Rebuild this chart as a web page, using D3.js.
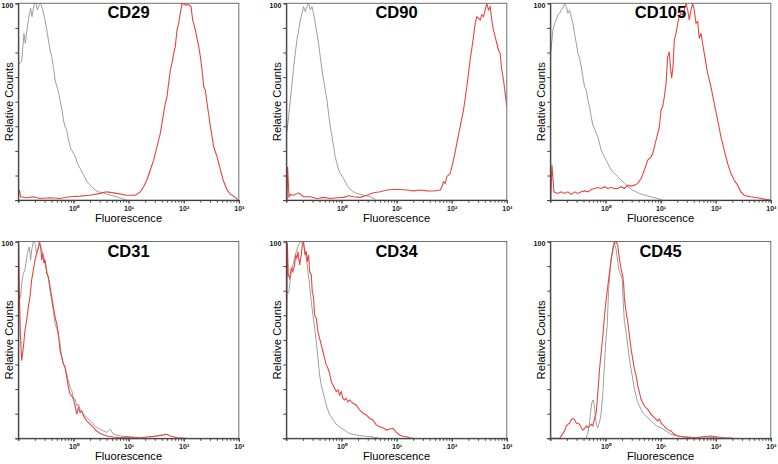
<!DOCTYPE html>
<html>
<head>
<meta charset="utf-8">
<script src="https://cdn.jsdelivr.net/npm/d3@7"></script>
<style>
  html, body { margin: 0; padding: 0; background: #fff; }
  svg { display: block; font-family: "Liberation Sans", Arial, sans-serif; }
</style>
</head>
<body>
<svg id="chart" width="778" height="464"></svg>
<script>
// ---------- data (x = log10 fluorescence, y = relative counts) ----------
const markers = ["CD29", "CD90", "CD105", "CD31", "CD34", "CD45"];
const xTickLabels = ["10\u2070", "10\u00B9", "10\u00B2", "10\u00B3"];
const yTickValues = [0, 12.5, 25, 37.5, 50, 62.5, 75, 87.5, 100];

const cd29Gray = [[-1.0,69.5],[-0.97,69.5],[-0.94,70.3],[-0.897,84.7],[-0.873,79.7],[-0.818,91.5],[-0.776,97.5],[-0.752,93.2],[-0.709,100],[-0.679,100],[-0.655,96.6],[-0.618,99.2],[-0.594,100],[-0.558,96.6],[-0.515,91.5],[-0.473,84.7],[-0.424,76.3],[-0.394,72.9],[-0.364,67.8],[-0.333,61.0],[-0.291,56.8],[-0.267,54.2],[-0.242,50.8],[-0.206,45.8],[-0.182,40.7],[-0.152,37.3],[-0.121,35.6],[-0.091,30.5],[-0.048,26.3],[0.0,23.7],[0.036,22.0],[0.073,18.6],[0.121,16.1],[0.170,13.6],[0.230,10.2],[0.273,8.5],[0.333,6.8],[0.394,5.1],[0.455,4.2],[0.545,3.7],[0.667,2.5],[0.788,1.7],[0.879,0.8],[0.970,0]];
const cd29Red = [[-1.0,2.5],[-0.98,5.1],[-0.958,1.7],[-0.848,1.2],[-0.727,1.7],[-0.606,0.8],[-0.424,1.2],[-0.242,0.8],[-0.061,1.7],[0.121,2.0],[0.303,2.5],[0.485,3.4],[0.606,4.2],[0.788,3.4],[0.970,2.5],[1.121,2.5],[1.212,4.2],[1.273,6.8],[1.333,10.2],[1.394,15.3],[1.455,20.3],[1.515,27.1],[1.576,33.9],[1.636,44.1],[1.667,49.2],[1.697,52.5],[1.727,59.3],[1.758,66.1],[1.788,69.5],[1.818,74.6],[1.848,78.0],[1.879,86.4],[1.909,89.8],[1.939,94.9],[1.970,100],[2.030,99.2],[2.091,99.2],[2.133,98.3],[2.164,91.5],[2.212,86.4],[2.273,78.0],[2.303,72.9],[2.333,66.1],[2.364,57.6],[2.394,55.9],[2.424,49.2],[2.485,37.3],[2.545,27.1],[2.606,22.0],[2.667,15.3],[2.727,9.3],[2.788,5.1],[2.848,2.9],[2.909,2.0],[2.982,0.3]];

const cd90Gray = [[-0.988,34.7],[-0.958,42.4],[-0.927,50.8],[-0.897,59.3],[-0.867,67.8],[-0.837,74.6],[-0.807,81.4],[-0.776,86.4],[-0.746,91.5],[-0.716,94.9],[-0.686,98.3],[-0.656,95.8],[-0.625,98.3],[-0.595,100],[-0.565,96.6],[-0.535,98.3],[-0.505,94.9],[-0.474,89.8],[-0.444,84.7],[-0.414,79.7],[-0.384,72.9],[-0.353,66.1],[-0.323,61.0],[-0.293,55.9],[-0.263,50.8],[-0.233,44.1],[-0.202,37.3],[-0.172,32.2],[-0.142,27.1],[-0.112,22.0],[-0.082,18.6],[-0.051,15.3],[-0.021,13.6],[0.039,11.0],[0.100,7.6],[0.160,5.4],[0.221,4.2],[0.281,3.4],[0.402,2.5],[0.523,1.7],[0.613,0.3]];
const cd90Red = [[-0.988,0],[-0.976,16.9],[-0.952,1.7],[-0.927,2.9],[-0.867,2.5],[-0.776,3.7],[-0.686,1.7],[-0.565,1.7],[-0.444,0.8],[-0.323,1.4],[-0.202,0.8],[-0.082,1.2],[0.039,1.4],[0.130,2.2],[0.221,1.7],[0.341,1.4],[0.462,2.5],[0.583,3.7],[0.704,4.2],[0.825,5.1],[0.946,5.4],[1.066,5.4],[1.187,5.1],[1.308,4.7],[1.429,5.1],[1.550,4.7],[1.671,4.6],[1.792,5.1],[1.822,6.8],[1.852,9.3],[1.882,8.5],[1.912,11.9],[1.973,13.6],[2.003,16.9],[2.033,20.3],[2.094,28.8],[2.154,37.3],[2.215,45.8],[2.275,57.6],[2.335,71.2],[2.396,83.1],[2.426,89.8],[2.456,93.2],[2.486,92.4],[2.517,91.5],[2.547,94.1],[2.577,93.2],[2.607,96.6],[2.637,100],[2.668,96.6],[2.698,98.3],[2.728,91.5],[2.758,86.4],[2.788,83.1],[2.819,79.7],[2.849,76.3],[2.879,74.6],[2.909,66.1],[2.940,61.0],[2.970,54.2],[3.0,47.5]];

const cd105Gray = [[-0.994,74.6],[-0.970,81.4],[-0.952,86.4],[-0.922,89.8],[-0.891,91.5],[-0.861,94.1],[-0.831,94.9],[-0.801,96.6],[-0.771,97.5],[-0.741,100],[-0.710,98.3],[-0.680,94.9],[-0.650,96.6],[-0.620,93.2],[-0.590,89.8],[-0.560,84.7],[-0.529,79.7],[-0.499,74.6],[-0.469,72.0],[-0.439,67.8],[-0.409,62.7],[-0.379,57.6],[-0.348,55.9],[-0.318,50.8],[-0.288,47.5],[-0.258,42.4],[-0.228,38.1],[-0.198,36.4],[-0.167,33.9],[-0.137,32.2],[-0.107,28.8],[-0.077,25.4],[-0.047,23.7],[-0.017,22.0],[0.014,20.3],[0.044,18.6],[0.104,15.3],[0.164,13.6],[0.225,11.9],[0.285,10.2],[0.345,8.5],[0.406,6.8],[0.496,5.1],[0.587,3.7],[0.707,2.5],[0.828,1.7],[0.949,0.8],[1.039,0]];
const cd105Red = [[-0.994,0],[-0.970,17.8],[-0.934,4.2],[-0.861,3.4],[-0.801,4.2],[-0.741,3.4],[-0.680,4.2],[-0.620,2.9],[-0.560,4.2],[-0.499,3.4],[-0.439,4.2],[-0.379,4.7],[-0.318,4.2],[-0.258,5.4],[-0.198,5.9],[-0.137,6.4],[-0.077,5.9],[-0.017,6.8],[0.044,5.9],[0.104,6.4],[0.164,5.9],[0.225,5.9],[0.285,6.8],[0.345,5.9],[0.406,7.6],[0.466,7.1],[0.526,7.6],[0.587,8.5],[0.647,11.0],[0.707,15.3],[0.768,20.3],[0.828,22.0],[0.858,23.7],[0.888,27.1],[0.949,33.9],[0.979,37.3],[1.009,45.8],[1.039,47.5],[1.069,52.5],[1.100,59.3],[1.130,72.9],[1.160,75.4],[1.178,67.8],[1.202,61.9],[1.226,67.8],[1.250,81.4],[1.281,84.7],[1.311,89.8],[1.341,93.2],[1.371,94.9],[1.401,94.1],[1.431,96.6],[1.462,100],[1.492,96.6],[1.522,91.5],[1.552,96.6],[1.582,100],[1.612,96.6],[1.643,89.8],[1.673,90.7],[1.703,82.2],[1.733,84.7],[1.763,79.7],[1.793,74.6],[1.854,64.4],[1.914,57.6],[1.974,49.2],[2.035,40.7],[2.095,32.2],[2.155,25.4],[2.216,18.6],[2.276,13.6],[2.336,10.2],[2.397,7.6],[2.457,4.2],[2.517,2.5],[2.578,2.0],[2.638,1.7],[2.759,1.2],[2.879,0.5],[3.0,0]];

const cd31Gray = [[-0.988,70.2],[-0.958,71.9],[-0.939,78.7],[-0.909,83.8],[-0.879,85.5],[-0.861,88.9],[-0.836,93.9],[-0.800,97.3],[-0.776,90.6],[-0.758,95.7],[-0.727,100],[-0.697,99.1],[-0.667,93.9],[-0.636,97.3],[-0.606,98.3],[-0.576,95.7],[-0.545,92.3],[-0.515,90.6],[-0.485,85.5],[-0.455,81.3],[-0.424,75.0],[-0.394,69.8],[-0.364,64.7],[-0.333,58.1],[-0.303,56.2],[-0.273,52.3],[-0.242,47.9],[-0.212,41.2],[-0.182,37.8],[-0.152,36.1],[-0.121,32.7],[-0.091,29.3],[-0.061,25.9],[-0.030,24.2],[0.0,20.8],[0.030,19.9],[0.061,16.5],[0.091,17.4],[0.121,14.8],[0.182,12.3],[0.242,10.6],[0.303,8.9],[0.364,7.2],[0.424,5.5],[0.485,4.6],[0.545,3.7],[0.606,3.0],[0.667,4.6],[0.727,2.0],[0.848,1.2],[0.970,0.7],[1.091,0.3]];
const cd31Red = [[-1.0,0],[-0.994,98.3],[-0.982,75.0],[-0.964,54.5],[-0.939,39.5],[-0.909,46.0],[-0.879,54.8],[-0.848,59.9],[-0.818,66.8],[-0.788,71.9],[-0.758,80.4],[-0.727,85.5],[-0.697,90.6],[-0.667,94.0],[-0.636,96.6],[-0.618,100],[-0.594,97.4],[-0.576,90.6],[-0.558,94.0],[-0.533,88.9],[-0.515,90.6],[-0.485,83.8],[-0.455,82.1],[-0.424,77.0],[-0.394,71.9],[-0.364,66.8],[-0.333,61.7],[-0.303,58.3],[-0.273,53.2],[-0.242,44.6],[-0.212,41.2],[-0.182,37.8],[-0.152,36.1],[-0.121,31.0],[-0.091,25.9],[-0.061,22.5],[-0.030,21.6],[0.0,19.9],[0.030,16.5],[0.061,12.3],[0.091,15.7],[0.121,13.1],[0.152,14.0],[0.182,11.4],[0.242,8.9],[0.303,7.2],[0.364,5.5],[0.424,3.7],[0.485,2.4],[0.606,1.2],[0.727,0.7],[0.848,0.3],[0.970,0.7],[1.212,0.3],[1.455,1.0],[1.576,1.5],[1.697,2.0],[1.758,1.2],[1.879,0.3],[2.061,0]];

const cd34Gray = [[-0.988,74.6],[-0.970,73.7],[-0.952,74.6],[-0.940,78.0],[-0.909,84.7],[-0.879,88.1],[-0.849,91.5],[-0.819,94.9],[-0.789,97.5],[-0.758,99.2],[-0.728,100],[-0.698,98.3],[-0.668,96.6],[-0.637,91.5],[-0.607,84.7],[-0.577,78.0],[-0.547,69.5],[-0.517,62.7],[-0.486,55.9],[-0.456,49.2],[-0.426,40.7],[-0.396,32.2],[-0.366,27.1],[-0.335,23.7],[-0.305,20.3],[-0.275,16.9],[-0.245,14.4],[-0.215,11.9],[-0.184,11.0],[-0.154,9.3],[-0.124,8.5],[-0.094,7.1],[-0.033,5.9],[0.027,4.7],[0.088,3.4],[0.148,2.5],[0.208,2.0],[0.269,1.7],[0.329,1.4],[0.450,1.0],[0.571,0.7],[0.692,0]];
const cd34Red = [[-1.0,0],[-0.994,50.8],[-0.982,99.2],[-0.964,83.1],[-0.940,81.4],[-0.909,86.4],[-0.879,84.7],[-0.849,88.1],[-0.831,93.2],[-0.807,91.5],[-0.789,94.9],[-0.758,88.1],[-0.728,93.2],[-0.710,98.3],[-0.686,100],[-0.662,93.2],[-0.637,94.9],[-0.619,89.8],[-0.595,93.2],[-0.577,84.7],[-0.547,83.1],[-0.529,74.6],[-0.505,71.2],[-0.486,62.7],[-0.456,61.0],[-0.426,54.2],[-0.396,50.8],[-0.366,47.5],[-0.335,44.1],[-0.305,40.7],[-0.275,37.3],[-0.245,35.6],[-0.215,33.1],[-0.184,28.8],[-0.154,27.1],[-0.124,25.4],[-0.094,23.7],[-0.063,24.6],[-0.033,22.0],[-0.003,23.7],[0.027,20.3],[0.057,19.5],[0.088,20.3],[0.118,18.6],[0.148,19.5],[0.208,17.8],[0.269,16.9],[0.329,14.4],[0.390,12.7],[0.450,11.9],[0.511,10.2],[0.571,9.3],[0.631,6.8],[0.692,5.9],[0.752,5.4],[0.813,4.2],[0.873,4.7],[0.934,5.1],[0.994,3.1],[1.054,1.7],[1.115,1.0],[1.175,0.8],[1.236,0.3],[1.296,0]];

const cd45Gray = [[-0.348,0],[-0.318,2.9],[-0.288,7.9],[-0.270,13.1],[-0.246,18.1],[-0.222,19.5],[-0.198,16.1],[-0.179,9.7],[-0.155,6.3],[-0.137,5.4],[-0.119,7.1],[-0.095,9.7],[-0.077,13.1],[-0.047,23.2],[-0.017,36.8],[-0.005,43.6],[0.014,52.0],[0.032,57.1],[0.044,65.6],[0.056,74.1],[0.074,80.8],[0.092,87.6],[0.104,91.0],[0.122,94.4],[0.140,97.8],[0.164,99.8],[0.176,97.8],[0.195,96.1],[0.225,89.3],[0.243,85.9],[0.261,84.2],[0.285,82.5],[0.303,80.8],[0.315,74.1],[0.333,63.9],[0.345,58.8],[0.357,57.1],[0.376,53.7],[0.406,46.9],[0.436,40.2],[0.466,35.1],[0.496,30.0],[0.526,24.9],[0.557,21.5],[0.587,18.1],[0.617,16.4],[0.647,14.7],[0.677,13.1],[0.707,12.2],[0.768,10.5],[0.828,8.8],[0.888,7.1],[0.949,5.9],[1.009,5.4],[1.069,4.2],[1.130,3.2],[1.190,2.0],[1.311,1.2],[1.431,0.7],[1.612,0.3],[1.793,0.7],[2.035,0.2],[2.276,0]];
const cd45Red = [[-1.0,0],[-0.831,0],[-0.801,1.2],[-0.741,3.7],[-0.710,6.3],[-0.680,7.1],[-0.650,7.6],[-0.620,9.5],[-0.590,10.0],[-0.560,9.5],[-0.529,7.8],[-0.499,7.6],[-0.469,7.1],[-0.439,5.4],[-0.409,4.2],[-0.379,4.9],[-0.348,6.3],[-0.318,5.4],[-0.288,6.3],[-0.258,7.1],[-0.228,6.3],[-0.198,9.7],[-0.167,13.1],[-0.137,23.2],[-0.107,35.1],[-0.077,43.6],[-0.047,52.0],[-0.017,62.2],[0.014,70.7],[0.044,77.5],[0.074,84.2],[0.104,91.0],[0.134,95.3],[0.164,99.5],[0.195,100],[0.225,97.8],[0.255,91.0],[0.285,85.9],[0.315,82.5],[0.333,77.5],[0.345,70.7],[0.376,64.0],[0.406,58.8],[0.436,52.0],[0.466,45.3],[0.496,40.2],[0.526,35.1],[0.557,31.7],[0.587,26.6],[0.617,23.2],[0.647,19.8],[0.707,16.4],[0.768,14.7],[0.828,12.2],[0.888,10.5],[0.949,8.8],[0.979,9.7],[1.009,7.8],[1.069,6.1],[1.130,4.4],[1.190,3.7],[1.250,2.0],[1.311,1.2],[1.431,0.7],[1.612,0.3],[1.793,0.8],[1.914,1.2],[2.035,0.7],[2.155,0.3],[2.336,0]];

const graySeries = [cd29Gray, cd90Gray, cd105Gray, cd31Gray, cd34Gray, cd45Gray];
const redSeries  = [cd29Red,  cd90Red,  cd105Red,  cd31Red,  cd34Red,  cd45Red];

// ---------- layout ----------
const colLeft = [18.3, 286.3, 550.3];
const rowTop = [3.3, 241.5];
const pw = 220.5, ph = 196.8;
const RED = "#e6463f", GRAY = "#9e9e9e";

const svg = d3.select("#chart");

markers.forEach((name, i) => {
  const left = colLeft[i % 3], top = rowTop[Math.floor(i / 3)];
  const x = d3.scaleLog().domain([0.1, 1000]).range([left, left + pw]);
  const y = d3.scaleLinear().domain([0, 100]).range([top + ph, top]);
  const g = svg.append("g");

  const clipId = "clip" + i;
  g.append("clipPath").attr("id", clipId)
    .append("rect").attr("x", left).attr("y", top - 1).attr("width", pw).attr("height", ph + 1);

  const line = d3.line().x(d => x(Math.pow(10, d[0]))).y(d => y(d[1]));
  const plot = g.append("g").attr("clip-path", `url(#${clipId})`);
  plot.append("path").datum(graySeries[i]).attr("d", line)
    .attr("fill", "none").attr("stroke", GRAY).attr("stroke-width", 1);
  plot.append("path").datum(redSeries[i]).attr("d", line)
    .attr("fill", "none").attr("stroke", RED).attr("stroke-width", 1.1);

  // frame
  g.append("rect").attr("x", left).attr("y", top).attr("width", pw).attr("height", ph)
    .attr("fill", "none").attr("stroke", "#6e6e6e").attr("stroke-width", 1);

  // x axis: minor ticks
  const minor = g.append("g").attr("transform", `translate(0,${top + ph})`)
    .call(d3.axisBottom(x).tickValues(x.ticks()).tickSize(2.5).tickFormat(""));
  minor.select(".domain").attr("stroke", "#333");
  minor.selectAll(".tick line").attr("stroke", "#444");
  // x axis: major ticks with labels
  const major = g.append("g").attr("transform", `translate(0,${top + ph})`)
    .call(d3.axisBottom(x).tickValues([1, 10, 100, 1000]).tickSize(3.5).tickPadding(2)
      .tickFormat((d, k) => xTickLabels[k]));
  major.select(".domain").remove();
  major.selectAll(".tick line").attr("stroke", "#444");
  major.selectAll(".tick text").attr("font-size", 7).attr("font-weight", "bold")
    .attr("fill", "#222").attr("font-family", "Liberation Sans, Arial, sans-serif");

  // y axis
  const ya = g.append("g").attr("transform", `translate(${left},0)`)
    .call(d3.axisLeft(y).tickValues(yTickValues).tickSize(3).tickPadding(2)
      .tickFormat(d => d === 100 ? "100" : ""));
  ya.select(".domain").attr("stroke", "#333");
  ya.selectAll(".tick line").attr("stroke", "#444");
  ya.selectAll(".tick text").attr("font-size", 7).attr("font-weight", "bold")
    .attr("fill", "#111").attr("dy", "0.55em").attr("font-family", "Liberation Sans, Arial, sans-serif");

  // title
  g.append("text").attr("x", left + pw / 2).attr("y", top + 15)
    .attr("text-anchor", "middle").attr("font-size", 16.5).attr("font-weight", "bold")
    .attr("fill", "#000").text(name);

  // axis titles
  g.append("text").attr("x", left + pw / 2).attr("y", top + ph + 21.5)
    .attr("text-anchor", "middle").attr("font-size", 11.2).attr("fill", "#000")
    .text("Fluorescence");
  g.append("text")
    .attr("transform", `translate(${left - 5.5},${top + ph / 2}) rotate(-90)`)
    .attr("text-anchor", "middle").attr("font-size", 11.2).attr("fill", "#000")
    .text("Relative Counts");
});
</script>
</body>
</html>
